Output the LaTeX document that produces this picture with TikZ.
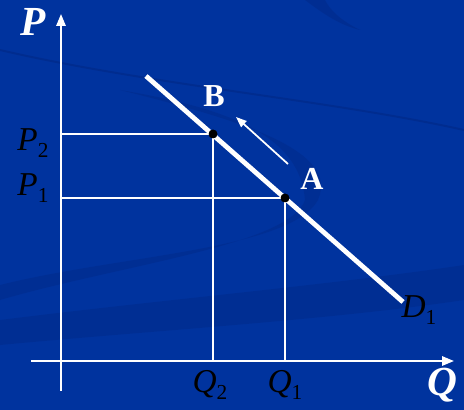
\documentclass[tikz,border=0pt]{standalone}
\usepackage{fontspec}
\setmainfont{Liberation Serif}
\usetikzlibrary{arrows.meta}
\definecolor{slideblue}{RGB}{0,51,158}
\definecolor{swirlblue}{RGB}{0,42,138}
\newcommand{\lowsub}[1]{\raisebox{-0.45ex}{\upshape\fontsize{16}{16}\selectfont #1}}

\begin{document}
\begin{tikzpicture}[
  x=0.75pt, y=-0.75pt,
  %% Line styles
  axis/.style={draw=white, line width=1.5pt, -{Triangle[length=9pt,width=7pt]}},
  guide/.style={draw=white, line width=1.1pt},
  demand/.style={draw=white, line width=3.6pt},
  move/.style={draw=white, line width=1.3pt, -{Triangle[length=8pt,width=6pt]}},
  dot/.style={circle, fill=black, inner sep=0pt, minimum size=6.5pt},
  %% Label styles
  axlabel/.style={font=\fontsize{31}{31}\selectfont\bfseries\itshape, text=white},
  vallabel/.style={font=\fontsize{25}{25}\selectfont\itshape, text=black, inner sep=0pt},
  ptlabel/.style={font=\fontsize{24}{24}\selectfont\bfseries, text=white},
]

%% =============================================================
%%  Background with faint swirls
%% =============================================================
\fill[slideblue] (0,0) rectangle (464,410);
\useasboundingbox (0,0) rectangle (464,410);
\draw[swirlblue, line width=1.5pt, opacity=0.7] (0,50) .. controls (150,85) and (330,100) .. (464,130);
\fill[swirlblue, opacity=0.5]
  (0,285) .. controls (120,255) and (290,250) .. (318,200)
  .. controls (340,150) and (240,120) .. (120,90)
  .. controls (240,110) and (300,140) .. (305,200)
  .. controls (290,245) and (120,265) .. (0,300) -- cycle;
\fill[swirlblue, opacity=0.5]
  (0,320) .. controls (160,300) and (330,285) .. (464,265)
  -- (464,300) .. controls (330,320) and (160,330) .. (0,345) -- cycle;
\fill[swirlblue, opacity=0.6]
  (305,0) .. controls (325,15) and (340,25) .. (360,30)
  .. controls (340,20) and (330,10) .. (325,0) -- cycle;

%% =============================================================
%%  Axes
%% =============================================================
\coordinate (ybot) at (61,391);
\coordinate (ytop) at (61,14);
\coordinate (xleft) at (31,361);
\coordinate (xright) at (454,361);
\draw[axis] (ybot) -- (ytop);
\draw[axis] (xleft) -- (xright);
\node[axlabel] (plab) at (33,22) {P};
\node[axlabel] (qlab) at (442,385) {Q};

%% =============================================================
%%  Demand curve and the two points
%% =============================================================
\coordinate (dtop) at (146,76);
\coordinate (dbot) at (403,302);
\draw[demand] (dtop) -- (dbot);

\node[dot] (ptA) at (285,198) {};
\node[dot] (ptB) at (213,134) {};

%% Guide lines to axes
\coordinate (yA) at (61,198);
\coordinate (yB) at (61,134);
\coordinate (xA) at (285,361);
\coordinate (xB) at (213,361);
\draw[guide] (yB) -- (ptB.center) -- (xB);
\draw[guide] (yA) -- (ptA.center) -- (xA);
\node[dot] at (ptA) {};
\node[dot] at (ptB) {};

%% Movement along the curve
\coordinate (mstart) at (288,164);
\coordinate (mend) at (236,117);
\draw[move] (mstart) -- (mend);

%% =============================================================
%%  Labels
%% =============================================================
\node[ptlabel] (labA) at (312,179) {A};
\node[ptlabel] (labB) at (214,96) {B};
\node[vallabel] (p2) at (33,143) {P\lowsub{2}};
\node[vallabel] (p1) at (33,188) {P\lowsub{1}};
\node[vallabel] (q2) at (210,385) {Q\lowsub{2}};
\node[vallabel] (q1) at (285,385) {Q\lowsub{1}};
\node[vallabel] (d1) at (419,310) {D\lowsub{1}};

\end{tikzpicture}
\end{document}
